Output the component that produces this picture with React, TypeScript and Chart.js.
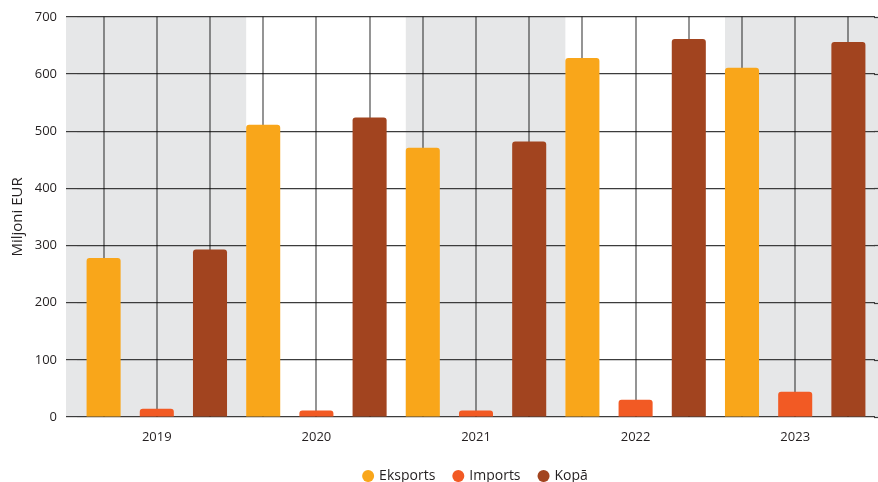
import React, { useEffect, useRef } from 'react';
import { Chart, registerables } from 'chart.js';

Chart.register(...registerables);

const years = ['2019', '2020', '2021', '2022', '2023'];
const eksports = [278, 511, 471, 628, 611];
const imports = [14.5, 11.5, 11.5, 30, 44];
const kopa = [293, 524, 482, 661, 656];
const seriesNames = ['Eksports', 'Imports', 'Kopā'];
const seriesColors = ['#F9A61A', '#F25A24', '#A2441F'];
const yMin = 0;
const yMax = 700;
const yStep = 100;
const yTitle = 'Miljoni EUR';
const whiteBandYears = ['2020', '2022'];

const FONT = "'Open Sans', 'Noto Sans', sans-serif";
const TEXT = '#231F20';
const GREY = '#E6E7E8';
const HLINE = '#3c3c3c';
const VLINE = 'rgba(0,0,0,0.6)';
const EXT_LEFT = 11;

const bandsPlugin = {
  id: 'bands',
  afterLayout(chart: any) {
    const lg = chart.legend;
    if (lg) {
      lg.left = chart.chartArea.left;
      lg.right = chart.chartArea.right;
      lg.width = lg.right - lg.left;
    }
  },
  beforeDraw(chart: any) {
    const { ctx, chartArea } = chart;
    const meta0 = chart.getDatasetMeta(0);
    if (!meta0 || !meta0.data.length) return;
    ctx.save();
    const left = chartArea.left - EXT_LEFT;
    ctx.fillStyle = GREY;
    ctx.fillRect(left, chartArea.top, chart.width - left, chartArea.bottom - chartArea.top);
    ctx.fillStyle = '#ffffff';
    years.forEach((y, i) => {
      if (!whiteBandYears.includes(y)) return;
      const el = meta0.data[i];
      const next = meta0.data[i + 1];
      const x0 = el.x - el.width / 2;
      const x1 = next ? next.x - next.width / 2 : chart.width;
      ctx.fillRect(x0, chartArea.top, x1 - x0, chartArea.bottom - chartArea.top);
    });
    ctx.restore();
  },
  beforeDatasetsDraw(chart: any) {
    const { ctx, chartArea } = chart;
    ctx.save();
    const ys = chart.scales.y;
    ctx.strokeStyle = HLINE;
    ctx.lineWidth = 1.2;
    ys.ticks.forEach((t: any) => {
      const py = Math.round(ys.getPixelForValue(t.value)) + 0.5;
      ctx.beginPath();
      ctx.moveTo(chartArea.right - 1, py);
      ctx.lineTo(chart.width, py);
      ctx.stroke();
    });
    ctx.strokeStyle = VLINE;
    ctx.lineWidth = 1.4;
    chart.data.datasets.forEach((_: any, di: number) => {
      const meta = chart.getDatasetMeta(di);
      meta.data.forEach((el: any) => {
        const px = Math.round(el.x);
        ctx.beginPath();
        ctx.moveTo(px, chartArea.top);
        ctx.lineTo(px, chartArea.bottom);
        ctx.stroke();
      });
    });
    ctx.restore();
  },
};

export default function App() {
  const ref = useRef<HTMLCanvasElement | null>(null);

  useEffect(() => {
    document.body.style.margin = '0';
    if (!ref.current) return;
    const chart = new Chart(ref.current, {
      type: 'bar',
      data: {
        labels: years,
        datasets: [eksports, imports, kopa].map((d, i) => ({
          label: seriesNames[i],
          data: d,
          backgroundColor: seriesColors[i],
          borderRadius: 3,
          borderSkipped: 'start' as const,
          categoryPercentage: 1.0,
          barPercentage: 0.64,
        })),
      },
      options: {
        responsive: true,
        maintainAspectRatio: false,
        animation: false,
        layout: { padding: { top: 16, left: 0, right: 3, bottom: -11 } },
        plugins: {
          tooltip: { enabled: false },
          legend: {
            position: 'bottom',
            labels: {
              usePointStyle: true,
              pointStyle: 'circle',
              boxWidth: 8,
              boxHeight: 8.5,
              padding: 19,
              color: TEXT,
              font: { family: FONT, size: 14 },
            },
          },
        },
        scales: {
          x: {
            grid: { display: false },
            border: { display: false },
            ticks: { color: TEXT, font: { family: FONT, size: 13 }, padding: 4 },
            afterFit(scale: any) {
              scale.height = 33;
            },
          },
          y: {
            min: yMin,
            max: yMax,
            ticks: {
              stepSize: yStep,
              color: TEXT,
              font: { family: FONT, size: 13 },
              padding: 9,
            },
            grid: {
              color: HLINE,
              lineWidth: 1.2,
              tickLength: EXT_LEFT,
              tickColor: HLINE,
            },
            border: { display: false },
            title: {
              display: true,
              text: yTitle,
              color: TEXT,
              font: { family: FONT, size: 15 },
              padding: { top: 9, bottom: 0 },
            },
            afterFit(scale: any) {
              scale.width = 77;
            },
          },
        },
      },
      plugins: [bandsPlugin],
    });
    return () => chart.destroy();
  }, []);

  return (
    <div style={{ width: 878, height: 482, position: 'relative' }}>
      <canvas ref={ref} />
    </div>
  );
}
